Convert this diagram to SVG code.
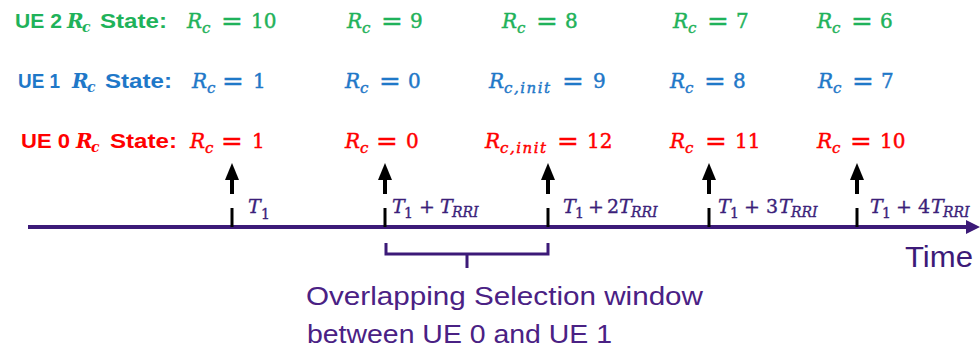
<svg xmlns="http://www.w3.org/2000/svg" width="980" height="355" viewBox="0 0 980 355">
<style>
.lb{font-family:"Liberation Sans",Arial,sans-serif;font-weight:bold;font-size:20px}
.lr{font-family:"DejaVu Serif",serif;font-weight:bold;font-style:italic;font-size:20px}
.lc{font-family:"DejaVu Serif",serif;font-weight:bold;font-style:italic;font-size:14px}
.m{font-family:"DejaVu Serif",serif;font-size:20px;stroke-width:0.45}
.i{font-style:italic}
.s{font-style:italic;font-size:15px}
.eq{font-size:26px}
.t{font-family:"DejaVu Serif",serif;font-size:19px;fill:#3b1f7a;stroke:#3b1f7a;stroke-width:0.35}
.ts{font-style:italic;font-size:14px}
.g{fill:#1fb25a;stroke:#1fb25a}.b{fill:#1f78c8;stroke:#1f78c8}.r{fill:#ff0000;stroke:#ff0000}
.lbl{stroke:none}
.cap{font-family:"Liberation Sans",Arial,sans-serif;font-size:26px;fill:#4a2184}
.ax{stroke:#3c1a78;stroke-width:4;fill:none}
.tick{stroke:#000;stroke-width:3}
.br{stroke:#3c1a78;stroke-width:3;fill:none}
</style>
<defs>
<g id="up"><rect x="-2" y="177" width="4" height="17" fill="#000"/><polygon points="-7,180 0,163 7,180" fill="#000"/><line class="tick" x1="0" y1="208" x2="0" y2="227"/></g>
</defs>

<g id="connectors">
<line class="ax" x1="28" y1="227" x2="968" y2="227"/>
<polygon points="966,220 980,227 966,234" fill="#3c1a78"/>
<use href="#up" x="232"/>
<use href="#up" x="385"/>
<use href="#up" x="548"/>
<use href="#up" x="709"/>
<use href="#up" x="857"/>
<path class="br" d="M386,243 V254 H548 V243 M467,254 V268"/>
</g>

<g id="ue2-label" class="g lbl">
<text class="lb" x="15" y="28" textLength="47" lengthAdjust="spacingAndGlyphs">UE 2</text>
<text class="lr" x="67" y="28">R</text><text class="lc" x="82" y="32">c</text>
<text class="lb" x="100" y="28" textLength="67" lengthAdjust="spacingAndGlyphs">State:</text>
</g>
<g id="ue1-label" class="b lbl">
<text class="lb" x="18" y="88" textLength="42" lengthAdjust="spacingAndGlyphs">UE 1</text>
<text class="lr" x="72" y="88">R</text><text class="lc" x="87" y="92">c</text>
<text class="lb" x="105" y="88" textLength="67" lengthAdjust="spacingAndGlyphs">State:</text>
</g>
<g id="ue0-label" class="r lbl">
<text class="lb" x="21" y="148" textLength="49" lengthAdjust="spacingAndGlyphs">UE 0</text>
<text class="lr" x="76" y="148">R</text><text class="lc" x="91" y="152">c</text>
<text class="lb" x="110" y="148" textLength="67" lengthAdjust="spacingAndGlyphs">State:</text>
</g>

<g id="ue2-values" class="m g">
<text><tspan class="i" x="187" y="28">R</tspan><tspan class="s" x="202" y="33">c</tspan><tspan class="eq" x="221" y="30">=</tspan><tspan x="251" y="28">10</tspan></text>
<text><tspan class="i" x="347" y="28">R</tspan><tspan class="s" x="362" y="33">c</tspan><tspan class="eq" x="381" y="30">=</tspan><tspan x="410" y="28">9</tspan></text>
<text><tspan class="i" x="502" y="28">R</tspan><tspan class="s" x="517" y="33">c</tspan><tspan class="eq" x="536" y="30">=</tspan><tspan x="565" y="28">8</tspan></text>
<text><tspan class="i" x="673" y="28">R</tspan><tspan class="s" x="688" y="33">c</tspan><tspan class="eq" x="707" y="30">=</tspan><tspan x="736" y="28">7</tspan></text>
<text><tspan class="i" x="817" y="28">R</tspan><tspan class="s" x="832" y="33">c</tspan><tspan class="eq" x="851" y="30">=</tspan><tspan x="880" y="28">6</tspan></text>
</g>
<g id="ue1-values" class="m b">
<text><tspan class="i" x="192" y="88">R</tspan><tspan class="s" x="207" y="93">c</tspan><tspan class="eq" x="222" y="90">=</tspan><tspan x="253" y="88">1</tspan></text>
<text><tspan class="i" x="345" y="88">R</tspan><tspan class="s" x="360" y="93">c</tspan><tspan class="eq" x="379" y="90">=</tspan><tspan x="408" y="88">0</tspan></text>
<text><tspan class="i" x="489" y="88">R</tspan><tspan class="s" x="504" y="93" letter-spacing="1.5">c,init</tspan><tspan class="eq" x="562" y="90">=</tspan><tspan x="593" y="88">9</tspan></text>
<text><tspan class="i" x="670" y="88">R</tspan><tspan class="s" x="685" y="93">c</tspan><tspan class="eq" x="704" y="90">=</tspan><tspan x="733" y="88">8</tspan></text>
<text><tspan class="i" x="818" y="88">R</tspan><tspan class="s" x="833" y="93">c</tspan><tspan class="eq" x="852" y="90">=</tspan><tspan x="881" y="88">7</tspan></text>
</g>
<g id="ue0-values" class="m r">
<text><tspan class="i" x="190" y="148">R</tspan><tspan class="s" x="205" y="153">c</tspan><tspan class="eq" x="221" y="150">=</tspan><tspan x="252" y="148">1</tspan></text>
<text><tspan class="i" x="345" y="148">R</tspan><tspan class="s" x="360" y="153">c</tspan><tspan class="eq" x="376" y="150">=</tspan><tspan x="406" y="148">0</tspan></text>
<text><tspan class="i" x="485" y="148">R</tspan><tspan class="s" x="500" y="153" letter-spacing="1.5">c,init</tspan><tspan class="eq" x="557" y="150">=</tspan><tspan x="587" y="148">12</tspan></text>
<text><tspan class="i" x="670" y="148">R</tspan><tspan class="s" x="685" y="153">c</tspan><tspan class="eq" x="705" y="150">=</tspan><tspan x="735" y="148">11</tspan></text>
<text><tspan class="i" x="817" y="148">R</tspan><tspan class="s" x="832" y="153">c</tspan><tspan class="eq" x="850" y="150">=</tspan><tspan x="880" y="148">10</tspan></text>
</g>

<g id="time-labels" class="t">
<text><tspan class="i" x="248" y="213">T</tspan><tspan x="261" y="219" font-size="14">1</tspan></text>
<text><tspan class="i" x="392" y="213">T</tspan><tspan x="404" y="218" font-size="14">1</tspan><tspan x="419" y="213">+</tspan><tspan class="i" x="440" y="213">T</tspan><tspan class="ts" x="452" y="217">RRI</tspan></text>
<text><tspan class="i" x="563" y="213">T</tspan><tspan x="575" y="218" font-size="14">1</tspan><tspan x="588" y="213">+</tspan><tspan x="607" y="213">2</tspan><tspan class="i" x="619" y="213">T</tspan><tspan class="ts" x="631" y="217">RRI</tspan></text>
<text><tspan class="i" x="718" y="213">T</tspan><tspan x="730" y="218" font-size="14">1</tspan><tspan x="744" y="213">+</tspan><tspan x="766" y="213">3</tspan><tspan class="i" x="779" y="213">T</tspan><tspan class="ts" x="791" y="217">RRI</tspan></text>
<text><tspan class="i" x="870" y="213">T</tspan><tspan x="882" y="218" font-size="14">1</tspan><tspan x="896" y="213">+</tspan><tspan x="918" y="213">4</tspan><tspan class="i" x="931" y="213">T</tspan><tspan class="ts" x="943" y="217">RRI</tspan></text>
</g>

<g id="time-axis-label">
<text x="905" y="267" font-family="Liberation Sans, Arial, sans-serif" font-size="30" fill="#3c1a78" textLength="68" lengthAdjust="spacingAndGlyphs">Time</text>
</g>

<g id="caption">
<text class="cap" x="306" y="305" textLength="397" lengthAdjust="spacingAndGlyphs">Overlapping Selection window</text>
<text class="cap" x="307" y="343" textLength="305" lengthAdjust="spacingAndGlyphs">between UE 0 and UE 1</text>
</g>
</svg>
